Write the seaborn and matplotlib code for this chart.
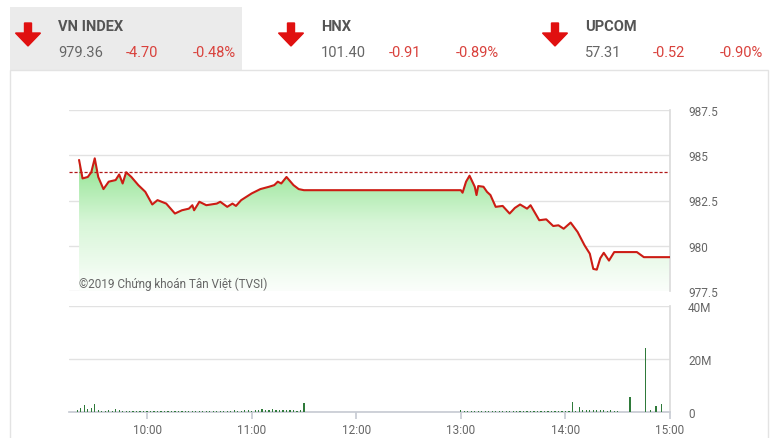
import numpy as np
import pandas as pd
import seaborn as sns
import matplotlib
matplotlib.use('Agg')
import matplotlib.pyplot as plt
from matplotlib.colors import LinearSegmentedColormap
from matplotlib.patches import Rectangle, FancyArrow

# header quotes
index_names = ['VN INDEX', 'HNX', 'UPCOM']
index_last = ['979.36', '101.40', '57.31']
index_chg = ['-4.70', '-0.91', '-0.52']
index_pct = ['-0.48%', '-0.89%', '-0.90%']

ref_price = 984.06

# intraday VN-Index
price_times = ['09:21', '09:23', '09:26', '09:28', '09:30', '09:32', '09:35', '09:38', '09:42', '09:44',
               '09:46', '09:48', '09:51', '09:55', '09:59', '10:03', '10:06', '10:11', '10:16', '10:20',
               '10:24', '10:26', '10:27', '10:30', '10:34', '10:40', '10:42', '10:46', '10:49', '10:51',
               '10:54', '11:00', '11:05', '11:10', '11:13', '11:15', '11:17', '11:20', '11:24', '11:27',
               '11:30', '13:00', '13:01', '13:03', '13:05', '13:08', '13:09', '13:10', '13:13', '13:15',
               '13:17', '13:20', '13:24', '13:28', '13:31', '13:34', '13:38', '13:40', '13:45', '13:49',
               '13:53', '13:56', '13:59', '14:03', '14:07', '14:11', '14:14', '14:16', '14:18', '14:20',
               '14:22', '14:25', '14:28', '14:41', '14:45', '15:00']
prices = [984.74, 983.72, 983.80, 984.06, 984.83, 983.80, 983.13, 983.54, 983.63, 983.94,
          983.44, 984.06, 983.80, 983.35, 982.98, 982.28, 982.52, 982.33, 981.78, 981.96,
          982.05, 982.24, 981.96, 982.43, 982.24, 982.33, 982.43, 982.15, 982.33, 982.20,
          982.52, 982.89, 983.13, 983.26, 983.35, 983.54, 983.44, 983.80, 983.35, 983.13,
          983.07, 983.07, 982.93, 983.54, 983.87, 983.26, 982.80, 983.30, 983.26, 982.98,
          982.80, 982.15, 982.20, 981.78, 982.09, 982.28, 982.05, 982.24, 981.41, 981.46,
          981.09, 981.13, 980.94, 981.28, 980.76, 980.02, 979.56, 978.72, 978.68, 979.31,
          979.61, 979.18, 979.65, 979.65, 979.37, 979.37]

# matched volume, millions, one bar per 2 minutes
vol_am = [0.8, 1.6, 2.5, 1.0, 1.6, 2.9, 0.6, 0.5, 0.4, 0.6,
          0.5, 1.3, 0.6, 0.4, 0.5, 0.4, 0.4, 0.3, 0.4, 0.3,
          0.4, 0.5, 0.3, 0.3, 0.4, 0.3, 0.3, 0.4, 0.3, 0.3,
          0.3, 0.4, 0.3, 0.3, 0.3, 0.4, 0.3, 0.5, 0.4, 0.3,
          0.3, 0.4, 0.3, 0.5, 0.4, 0.6, 0.5, 0.4, 0.6, 0.7,
          0.5, 0.8, 0.6, 1.0, 0.9, 0.7, 1.0, 0.8, 0.6, 0.7,
          0.8, 0.6, 0.7, 0.5, 0.6, 3.5]
vol_pm = [0.6, 0.4, 0.3, 0.4, 0.3, 0.4, 0.3, 0.5, 0.4, 0.3,
          0.4, 0.5, 0.3, 0.4, 0.4, 0.5, 0.3, 0.4, 0.4, 0.3,
          0.5, 0.4, 0.3, 0.4, 0.3, 0.5, 0.4, 0.3, 0.4, 0.5,
          0.3, 0.4, 3.8, 0.5, 1.7, 0.6, 0.8, 0.7, 0.6, 0.6,
          0.7, 0.6, 0.5, 0.6, 0.5, 0.4]
late_times = ['14:37', '14:46', '14:49', '14:52', '14:55']
late_vols = [5.8, 24.0, 0.8, 2.3, 2.9]


def to_hours(ts):
    t = pd.to_datetime(pd.Series(ts), format='%H:%M')
    return (t.dt.hour + t.dt.minute / 60).to_numpy()


am_t = pd.date_range('09:20', periods=len(vol_am), freq='2min').strftime('%H:%M')
pm_t = pd.date_range('13:00', periods=len(vol_pm), freq='2min').strftime('%H:%M')
vol_df = pd.DataFrame({
    'hour': np.concatenate([to_hours(am_t), to_hours(pm_t), to_hours(late_times)]),
    'vol': np.concatenate([vol_am, vol_pm, late_vols]),
})
px_df = pd.DataFrame({'hour': to_hours(price_times), 'price': prices})

sns.set_theme(style='white')
plt.rcParams['font.family'] = ['Roboto', 'DejaVu Sans']

W, H = 780, 439
fig = plt.figure(figsize=(W / 100, H / 100), dpi=100)


def fx(x):
    return x / W


def fy(y):
    return 1 - y / H


# header + panel background
fig.patches.append(Rectangle((fx(10), fy(71)), fx(232), 63 / H, transform=fig.transFigure,
                             facecolor='#ebebeb', edgecolor='none', zorder=-2))
fig.patches.append(Rectangle((fx(10), fy(445)), fx(758), 374 / H, transform=fig.transFigure,
                             facecolor='white', edgecolor='#e3e3e3', lw=1, zorder=-2))

hx = [28, 291, 555]
for i, x0 in enumerate(hx):
    fig.patches.append(FancyArrow(fx(x0), fy(24), 0, -23 / H, width=7 / W, head_width=25 / W,
                                  head_length=13 / H, length_includes_head=True,
                                  transform=fig.transFigure, color='#e01010', zorder=1))
    tx = x0 + 30
    fig.text(fx(tx), fy(27), index_names[i], fontsize=10.5, fontweight='bold', color='#555555', va='center')
    fig.text(fx(tx), fy(53), index_last[i], fontsize=10.5, color='#666666', va='center')
    fig.text(fx(tx + 68), fy(53), index_chg[i], fontsize=10.5, color='#d9413c', va='center')
    fig.text(fx(tx + 135), fy(53), index_pct[i], fontsize=10.5, color='#d9413c', va='center')

# price chart
ax = fig.add_axes([fx(68.6), fy(292), fx(670 - 68.6), 181 / H])
ax.set_facecolor('none')
poly = ax.fill_between(px_df['hour'], px_df['price'], 977.5, color='none', lw=0)
cmap = LinearSegmentedColormap.from_list('gr', ['#fbfefb', '#d8f6d8', '#8be28b'])
grad = np.linspace(1, 0, 256).reshape(-1, 1)
im = ax.imshow(grad, extent=[9.25, 15, 977.5, 985], aspect='auto', cmap=cmap, vmin=0, vmax=1, zorder=1)
im.set_clip_path(poly.get_paths()[0], transform=ax.transData)
sns.lineplot(data=px_df, x='hour', y='price', ax=ax, color='#cc1c14', linewidth=1.5, zorder=3)
ax.axhline(ref_price, color='#b01818', lw=0.9, ls=(0, (2.5, 1.5)), zorder=2)
ax.set_xlim(9.25, 15)
ax.set_ylim(977.5, 987.5)
ax.set_yticks([977.5, 980, 982.5, 985, 987.5])
ax.set_yticklabels(['977.5', '980', '982.5', '985', '987.5'])
ax.yaxis.tick_right()
ax.grid(axis='y', color='#e2e2e2', lw=1)
ax.set_xticks([])
ax.set_xlabel('')
ax.set_ylabel('')
for s in ['left', 'bottom', 'top']:
    ax.spines[s].set_visible(False)
ax.spines['right'].set_color('#dcdcdc')
ax.tick_params(axis='y', length=0, pad=13, labelsize=8.5, labelcolor='#666666')
ax.text(0.018, 0.045, '©2019 Chứng khoán Tân Việt (TVSI)', transform=ax.transAxes,
        fontsize=8.5, color='#666666', va='center', zorder=4)

# volume chart
axv = fig.add_axes([fx(68.6), fy(413), fx(670 - 68.6), 106 / H])
axv.bar(vol_df['hour'], vol_df['vol'], width=0.7 / 60, color='#2f7a3a', lw=0, zorder=3)
axv.set_xlim(9.25, 15)
axv.set_ylim(0, 40)
axv.set_yticks([0, 20, 40])
axv.set_yticklabels(['0', '20M', '40M'])
axv.yaxis.tick_right()
axv.grid(axis='y', color='#e2e2e2', lw=1)
axv.set_xticks([10, 11, 12, 13, 14, 15])
axv.set_xticklabels(['10:00', '11:00', '12:00', '13:00', '14:00', '15:00'])
for s in ['left', 'top']:
    axv.spines[s].set_visible(False)
axv.spines['right'].set_color('#dcdcdc')
axv.spines['bottom'].set_color('#c8ccd4')
axv.tick_params(axis='y', length=0, pad=13, labelsize=8.5, labelcolor='#666666')
axv.tick_params(axis='x', bottom=True, length=5, color='#c8ccd4', labelsize=8.5, labelcolor='#666666', pad=3)

fig.savefig('out.png', dpi=100)
